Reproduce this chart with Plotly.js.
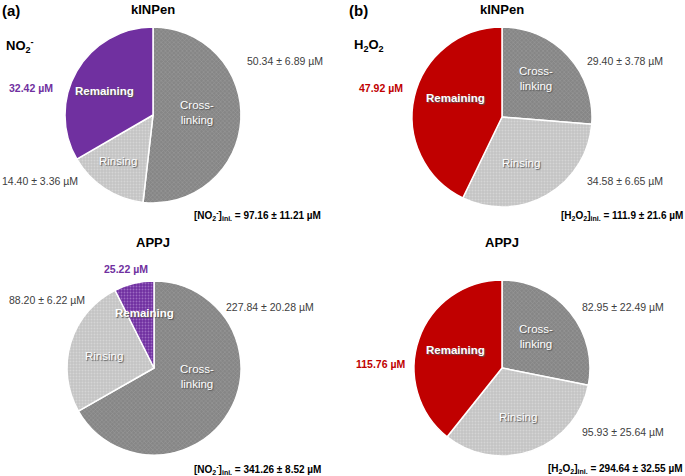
<!DOCTYPE html>
<html>
<head>
<meta charset="utf-8">
<script src="https://cdn.plot.ly/plotly-3.0.1.min.js"></script>
<style>
  html, body { margin: 0; padding: 0; background: #fff; }
  #plot { width: 685px; height: 476px; }
</style>
</head>
<body>
<div id="plot"></div>
<script>
// slice order: cross-linking, rinsing, remaining (clockwise from 12 o'clock)
var sliceNames = ["Cross-linking", "Rinsing", "Remaining"];

var no2Kinpen = [50.34, 14.40, 32.42];
var no2KinpenErr = [6.89, 3.36];
var no2Appj = [227.84, 88.20, 25.22];
var no2AppjErr = [20.28, 6.22];

var h2o2Kinpen = [29.40, 34.58, 47.92];
var h2o2KinpenErr = [3.78, 6.65];
var h2o2Appj = [82.95, 95.93, 115.76];
var h2o2AppjErr = [22.49, 25.64];

var initial = {
  no2Kinpen: "97.16 ± 11.21",
  no2Appj: "341.26 ± 8.52",
  h2o2Kinpen: "111.9 ± 21.6",
  h2o2Appj: "294.64 ± 32.55"
};

var W = 685, H = 476;
var PURPLE = "#7030a0", RED = "#c00000";
var FONT = "Liberation Sans, Arial, sans-serif";

// pixel -> paper helpers
function px(x) { return x / W; }
function py(y) { return 1 - y / H; }

function pieTrace(values, remainColor, box, dotted) {
  return {
    type: "pie",
    values: values,
    labels: sliceNames,
    sort: false,
    direction: "clockwise",
    rotation: 0,
    textinfo: "none",
    hoverinfo: "label+value",
    showlegend: false,
    domain: { x: [px(box[0]), px(box[1])], y: [py(box[3]), py(box[2])] },
    marker: {
      colors: ["#868686", "#c4c4c4", remainColor],
      line: { color: "#ffffff", width: 1.5 },
      pattern: {
        shape: ["x", ".", dotted ? "." : ""],
        fillmode: "overlay",
        fgcolor: ["#b2b2b2", "#e6e6e6", "#c9a6e6"],
        size: 3,
        solidity: 0.3
      }
    }
  };
}

var data = [
  pieTrace(no2Kinpen, PURPLE, [65, 241, 27, 203], false),
  pieTrace(h2o2Kinpen, RED, [412, 592, 27, 207], false),
  pieTrace(no2Appj, PURPLE, [67, 241, 281, 455], true),
  pieTrace(h2o2Appj, RED, [414, 590, 280, 456], false)
];

var ann = [];
function note(text, x, y, opts) {
  opts = opts || {};
  ann.push({
    text: text, xref: "paper", yref: "paper",
    x: px(x), y: py(y),
    xanchor: opts.xa || "center", yanchor: "middle",
    showarrow: false,
    font: { family: FONT, size: opts.size || 10.5, color: opts.color || "#404040" }
  });
}
function inLabel(text, x, y, bold) {
  ann.push({
    text: bold ? "<b>" + text + "</b>" : text,
    xref: "paper", yref: "paper", x: px(x), y: py(y),
    xanchor: "center", yanchor: "middle", showarrow: false,
    font: { family: FONT, size: 11.5, color: "#ffffff", shadow: "1px 1px 1px #555" }
  });
}
function pm(v, e) { return v.toFixed(2) + " ± " + e.toFixed(2) + " µM"; }

// panel letters and titles
note("<b>(a)</b>", 0, 10, { xa: "left", size: 15, color: "#000" });
note("<b>(b)</b>", 347, 10, { xa: "left", size: 15, color: "#000" });
note("<b>kINPen</b>", 153, 9, { size: 13, color: "#000" });
note("<b>kINPen</b>", 502, 9, { size: 13, color: "#000" });
note("<b>APPJ</b>", 153, 243, { size: 13, color: "#000" });
note("<b>APPJ</b>", 502, 243, { size: 13, color: "#000" });
note("<b>NO<sub>2</sub><sup>-</sup></b>", 4, 46, { xa: "left", size: 13, color: "#000" });
note("<b>H<sub>2</sub>O<sub>2</sub></b>", 352, 46, { xa: "left", size: 13, color: "#000" });

// kINPen NO2-
note(pm(no2Kinpen[0], no2KinpenErr[0]), 245, 61, { xa: "left" });
note(pm(no2Kinpen[1], no2KinpenErr[1]), 0, 181, { xa: "left" });
note("<b>" + no2Kinpen[2].toFixed(2) + " µM</b>", 7, 88, { xa: "left", color: PURPLE });
note("<b>[NO<sub>2</sub><sup>-</sup>]<sub>ini.</sub> = " + initial.no2Kinpen + " µM</b>", 192, 216, { xa: "left", size: 10, color: "#000" });
inLabel("Remaining", 104, 91, true);
inLabel("Cross-<br>linking", 197, 112, false);
inLabel("Rinsing", 118, 161, false);

// kINPen H2O2
note(pm(h2o2Kinpen[0], h2o2KinpenErr[0]), 585, 61, { xa: "left" });
note(pm(h2o2Kinpen[1], h2o2KinpenErr[1]), 585, 181, { xa: "left" });
note("<b>" + h2o2Kinpen[2].toFixed(2) + " µM</b>", 357, 88, { xa: "left", color: RED });
note("<b>[H<sub>2</sub>O<sub>2</sub>]<sub>ini.</sub> = " + initial.h2o2Kinpen + " µM</b>", 685, 216, { xa: "right", size: 10, color: "#000" });
inLabel("Remaining", 455, 98, true);
inLabel("Cross-<br>linking", 536, 79, false);
inLabel("Rinsing", 521, 163, false);

// APPJ NO2-
note(pm(no2Appj[0], no2AppjErr[0]), 224, 307, { xa: "left" });
note(pm(no2Appj[1], no2AppjErr[1]), 7, 300, { xa: "left" });
note("<b>" + no2Appj[2].toFixed(2) + " µM</b>", 126, 269, { color: PURPLE });
note("<b>[NO<sub>2</sub><sup>-</sup>]<sub>ini.</sub> = " + initial.no2Appj + " µM</b>", 192, 469, { xa: "left", size: 10, color: "#000" });
inLabel("Remaining", 144, 313, true);
inLabel("Cross-<br>linking", 197, 376, false);
inLabel("Rinsing", 104, 356, false);

// APPJ H2O2
note(pm(h2o2Appj[0], h2o2AppjErr[0]), 580, 307, { xa: "left" });
note(pm(h2o2Appj[1], h2o2AppjErr[1]), 580, 432, { xa: "left" });
note("<b>" + h2o2Appj[2].toFixed(2) + " µM</b>", 354, 364, { xa: "left", color: RED });
note("<b>[H<sub>2</sub>O<sub>2</sub>]<sub>ini.</sub> = " + initial.h2o2Appj + " µM</b>", 685, 469, { xa: "right", size: 10, color: "#000" });
inLabel("Remaining", 455, 350, true);
inLabel("Cross-<br>linking", 536, 336, false);
inLabel("Rinsing", 518, 417, false);

var layout = {
  width: W,
  height: H,
  margin: { l: 0, r: 0, t: 0, b: 0 },
  paper_bgcolor: "#ffffff",
  font: { family: FONT },
  annotations: ann
};

Plotly.newPlot("plot", data, layout, { displayModeBar: false, staticPlot: true });
</script>
</body>
</html>
